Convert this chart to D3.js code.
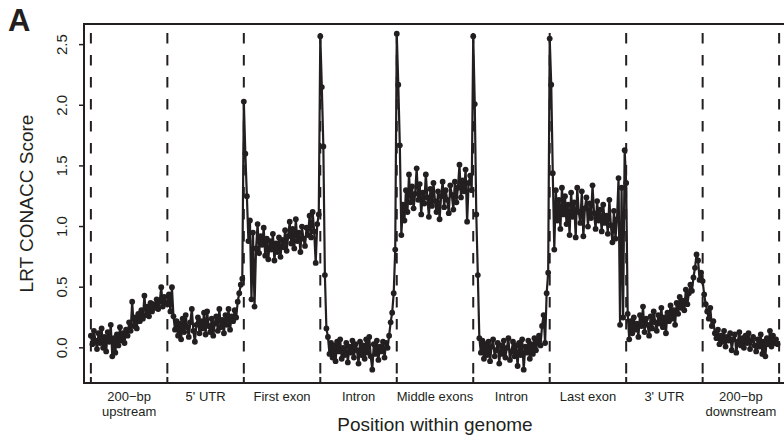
<!DOCTYPE html>
<html>
<head>
<meta charset="utf-8">
<script src="https://cdn.jsdelivr.net/npm/d3@7"></script>
<style>
  body { margin: 0; background: #ffffff; }
  svg { display: block; }
  text { font-family: "Liberation Sans", Arial, Helvetica, sans-serif; fill: #231f20; }
</style>
</head>
<body>
<div id="chart"></div>
<script>
// ---------------------------------- DATA ---------------------------------- //

let segment_labels = [
  ['200\u2212bp', 'upstream'], ["5' UTR"], ['First exon'], ['Intron'], ['Middle exons'],
  ['Intron'], ['Last exon'], ["3' UTR"], ['200\u2212bp', 'downstream']
];
let y_ticks = [0.0, 0.5, 1.0, 1.5, 2.0, 2.5];

let upstream_values = [0.10, 0.03, 0.14, 0.06, -0.01, 0.12, 0.04, 0.16, 0.00, 0.09, -0.03, 0.13, 0.05, 0.19, -0.07, 0.08,
  -0.04, 0.11, 0.02, 0.17, 0.06, 0.12, 0.04, 0.15, 0.10, 0.21, 0.14, 0.38, 0.18, 0.25,
  0.16, 0.28, 0.22, 0.31, 0.24, 0.43, 0.27, 0.34, 0.26, 0.37,
  0.30, 0.36, 0.33, 0.40, 0.32, 0.38, 0.50, 0.34, 0.42, 0.37];
let utr5_values = [0.36, 0.44, 0.30, 0.50, 0.26, 0.15, 0.22, 0.10, 0.20, 0.07,
  0.24, 0.13, 0.27, 0.17, 0.09, 0.21, 0.32, 0.14, 0.05, 0.19,
  0.25, 0.12, 0.22, 0.16, 0.29, 0.11, 0.30, 0.18, 0.13, 0.24,
  0.10, 0.20, 0.26, 0.14, 0.32, 0.17, 0.23, 0.12, 0.27, 0.19,
  0.32, 0.15, 0.26, 0.22, 0.31, 0.25, 0.38, 0.45, 0.52, 0.57];
let first_exon_values = [2.03, 1.60, 1.25, 0.88, 1.05, 0.40, 0.95, 0.34, 0.82, 1.02,
  0.78, 0.92, 0.85, 0.99, 0.76, 0.90, 0.73, 0.88, 0.81, 0.94,
  0.72, 0.86, 0.79, 0.91, 0.75, 0.89, 0.83, 0.97, 0.80, 0.92,
  1.04, 0.86, 0.98, 0.82, 1.06, 0.88, 0.95, 0.79, 1.00, 0.90,
  0.84, 0.99, 0.93, 1.09, 0.91, 1.12, 0.96, 0.70, 1.02, 1.10];
let intron1_values = [2.57, 2.15, 1.66, 0.60, 0.16, 0.09, -0.05, 0.04, -0.08, 0.02,
  -0.11, 0.05, -0.03, 0.07, -0.09, 0.00, -0.06, 0.04, -0.12, 0.01,
  -0.04, 0.06, -0.08, 0.03, -0.02, -0.13, 0.05, -0.06, 0.02, -0.09,
  0.07, -0.04, 0.09, -0.07, -0.18, 0.03, -0.05, 0.06, -0.10, 0.01,
  -0.03, 0.05, -0.08, 0.04, 0.00, 0.10, 0.21, 0.29, 0.45, 0.81];
let middle_exon_values = [2.59, 2.17, 1.67, 0.93, 1.18, 1.05, 1.30, 1.12, 1.43, 1.20,
  1.33, 1.15, 1.27, 1.48, 1.22, 1.35, 1.10, 1.28, 1.19, 1.43,
  1.24, 1.08, 1.31, 1.17, 1.36, 1.21, 1.12, 1.29, 1.06, 1.25,
  1.37, 1.16, 1.30, 1.22, 1.11, 1.34, 1.26, 1.14, 1.37, 1.20,
  1.32, 1.51, 1.24, 1.38, 1.29, 1.47, 1.04, 1.36, 1.42, 1.30];
let intron2_values = [2.57, 2.01, 1.10, 0.60, 0.08, -0.04, 0.06, -0.09, 0.03, -0.06,
  0.05, -0.11, 0.01, 0.07, -0.07, -0.02, 0.04, -0.13, 0.02, -0.05,
  0.06, -0.08, 0.00, 0.08, -0.10, -0.03, 0.05, -0.07, 0.02, -0.15,
  0.04, -0.06, 0.07, -0.18, 0.01, -0.04, 0.06, -0.09, 0.03, -0.05,
  0.08, -0.02, 0.05, 0.10, 0.02, 0.18, 0.27, 0.04, 0.45, 0.62];
let last_exon_values = [2.55, 2.17, 1.44, 0.81, 1.30, 1.05, 1.22, 0.98, 1.32, 1.10,
  1.25, 1.02, 1.18, 0.93, 1.28, 1.08, 1.20, 0.91, 1.32, 1.12,
  1.03, 1.29, 0.92, 1.15, 1.24, 1.00, 1.19, 1.07, 1.34, 1.11,
  0.98, 1.21, 1.05, 1.14, 0.96, 1.18, 1.03, 1.09, 0.94, 1.22,
  1.01, 0.87, 1.13, 0.90, 1.06, 1.40, 0.19, 1.32, 0.25, 1.63];
let utr3_values = [1.36, 0.28, 0.07, 0.22, 0.12, 0.25, 0.15, 0.20, 0.09, 0.27,
  0.18, 0.34, 0.13, 0.24, 0.19, 0.10, 0.26, 0.16, 0.30, 0.21,
  0.14, 0.27, 0.20, 0.33, 0.17, 0.25, 0.12, 0.29, 0.22, 0.35,
  0.24, 0.31, 0.19, 0.37, 0.28, 0.42, 0.33, 0.39, 0.31, 0.48,
  0.36, 0.45, 0.52, 0.47, 0.58, 0.66, 0.77, 0.72, 0.56, 0.62];
let downstream_values = [0.55, 0.44, 0.36, 0.30, 0.24, 0.33, 0.18, 0.22, 0.12, 0.08,
  0.15, 0.03, 0.10, 0.05, 0.14, 0.01, 0.09, 0.06, 0.12, -0.02,
  0.07, 0.11, -0.04, 0.05, 0.13, 0.02, 0.08, 0.00, 0.10, 0.04,
  0.12, -0.01, 0.06, 0.09, 0.02, -0.03, 0.07, 0.01, 0.11, -0.05,
  0.05, -0.07, 0.08, 0.03, 0.14, 0.01, 0.10, 0.04, 0.07, 0.03];

let segment_values = [upstream_values, utr5_values, first_exon_values, intron1_values, middle_exon_values,
  intron2_values, last_exon_values, utr3_values, downstream_values];

// ---------------------------------- SETTINGS ---------------------------------- //

let img_width = 784;
let img_height = 447;
let plot_left = 84;
let plot_right = 786;
let plot_top = 24;
let plot_bottom = 383;
let ink = '#231f20';

// ---------------------------------- SCALES ---------------------------------- //

let x = d3.scaleLinear().domain([-0.09, 9.09]).range([plot_left, plot_right]);
let y = d3.scaleLinear().domain([-0.29, 2.67]).range([plot_bottom, plot_top]);

let points = [];
segment_values.forEach((vals, i) => {
  vals.forEach((v, j) => points.push({ pos: i + j / vals.length, value: v }));
});

// ---------------------------------- CORE IMAGE ---------------------------------- //

let svg = d3.select('#chart')
  .append('svg')
  .attr('width', img_width)
  .attr('height', img_height);

// dashed segment boundaries
svg.append('g')
  .selectAll('line')
  .data(d3.range(segment_values.length + 1))
  .enter()
  .append('line')
  .attr('x1', d => x(d))
  .attr('x2', d => x(d))
  .attr('y1', plot_top + 9)
  .attr('y2', plot_bottom)
  .attr('stroke', ink)
  .attr('stroke-width', 2)
  .attr('stroke-dasharray', '10.5,11.5');

// x ticks at boundaries
svg.append('g')
  .selectAll('line')
  .data(d3.range(segment_values.length + 1))
  .enter()
  .append('line')
  .attr('x1', d => x(d))
  .attr('x2', d => x(d))
  .attr('y1', plot_bottom - 6)
  .attr('y2', plot_bottom + 1)
  .attr('stroke', ink)
  .attr('stroke-width', 2);

// data line + dots
let line = d3.line().x(d => x(d.pos)).y(d => y(d.value));

svg.append('path')
  .datum(points)
  .attr('d', line)
  .attr('fill', 'none')
  .attr('stroke', ink)
  .attr('stroke-width', 2.2)
  .attr('stroke-linejoin', 'round');

svg.append('g')
  .selectAll('circle')
  .data(points)
  .enter()
  .append('circle')
  .attr('cx', d => x(d.pos))
  .attr('cy', d => y(d.value))
  .attr('r', 2.9)
  .attr('fill', ink);

// box (left, top, bottom)
svg.append('path')
  .attr('d', `M${plot_right},${plot_top}H${plot_left}V${plot_bottom}H${plot_right}`)
  .attr('fill', 'none')
  .attr('stroke', ink)
  .attr('stroke-width', 2);

// ---------------------------------- Y AXIS ---------------------------------- //

let y_axis = svg.append('g');
y_axis.selectAll('line')
  .data(y_ticks)
  .enter()
  .append('line')
  .attr('x1', plot_left - 5)
  .attr('x2', plot_left)
  .attr('y1', d => y(d))
  .attr('y2', d => y(d))
  .attr('stroke', ink)
  .attr('stroke-width', 1.5);

y_axis.selectAll('text')
  .data(y_ticks)
  .enter()
  .append('text')
  .attr('transform', d => `translate(67,${y(d)}) rotate(-90)`)
  .attr('text-anchor', 'middle')
  .style('font-size', '15px')
  .text(d => d3.format('.1f')(d));

svg.append('text')
  .attr('transform', `translate(33,${(plot_top + plot_bottom) / 2}) rotate(-90)`)
  .attr('text-anchor', 'middle')
  .style('font-size', '19px')
  .text('LRT CONACC Score');

// ---------------------------------- X LABELS ---------------------------------- //

let label_lines = [];
segment_labels.forEach((lines, i) => {
  lines.forEach((t, k) => label_lines.push({ t: t, i: i, k: k }));
});

svg.append('g')
  .selectAll('text')
  .data(label_lines)
  .enter()
  .append('text')
  .attr('x', d => x(d.i + 0.5))
  .attr('y', d => 401 + d.k * 15)
  .attr('text-anchor', 'middle')
  .style('font-size', '13px')
  .text(d => d.t);

svg.append('text')
  .attr('x', (plot_left + plot_right) / 2)
  .attr('y', 431)
  .attr('text-anchor', 'middle')
  .style('font-size', '19px')
  .text('Position within genome');

svg.append('text')
  .attr('x', 8)
  .attr('y', 31)
  .style('font-size', '31px')
  .style('font-weight', 'bold')
  .text('A');
</script>
</body>
</html>
